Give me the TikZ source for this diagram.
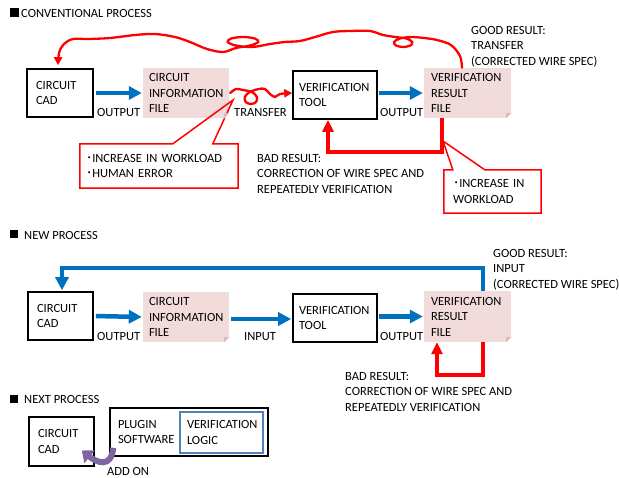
\documentclass[tikz,border=0pt]{standalone}
\usepackage{fontspec}
\setmainfont{Carlito}
\newfontfamily\cjkfont{Noto Sans CJK JP}
\usetikzlibrary{arrows.meta}
\definecolor{flowblue}{RGB}{0,112,192}
\definecolor{alertred}{RGB}{255,0,0}
\definecolor{filepink}{RGB}{242,220,219}
\definecolor{foldpink}{RGB}{214,190,190}
\definecolor{logicblue}{RGB}{79,129,189}
\definecolor{addonpurple}{RGB}{128,100,162}
\newcommand{\bulletdot}{{\cjkfont ･}}
\begin{document}
\begin{tikzpicture}[x=1pt,y=-1pt,
  every node/.style={font=\fontsize{12.5}{15.5}\selectfont, text=black},
  box/.style={draw=black, line width=1.6pt, align=left, inner ysep=0pt},
  file/.style={fill=filepink, align=left, inner ysep=0pt},
  lbl/.style={anchor=north west, inner sep=0pt, align=left},
  calloutbox/.style={align=left, inner ysep=0pt},
  calloutline/.style={draw=alertred, line width=1.5pt, line join=miter},
  flow/.style={draw=flowblue, line width=4.5pt, -{Triangle[length=13pt,width=13pt]}},
  fix/.style={draw=alertred, line width=4pt, -{Triangle[length=12pt,width=11pt]}},
  wavy/.style={draw=alertred, line width=2.3pt, line cap=round, -{Triangle[length=8pt,width=8pt]}},
  addon/.style={draw=addonpurple, line width=6pt, -{Triangle[length=10pt,width=16pt]}}]
\useasboundingbox (0,0) rectangle (619,477);

% ---------------- section headings ----------------
\fill (10,8) rectangle (19,17);
\node[lbl] (h1) at (21,9) {CONVENTIONAL PROCESS};
\fill (10,230) rectangle (18,238);
\node[lbl] (h2) at (24,231) {NEW PROCESS};
\fill (10,395) rectangle (18,403);
\node[lbl] (h3) at (24,395) {NEXT PROCESS};

% ---------------- conventional process ----------------
\node[box, minimum width=66pt, minimum height=48pt, text width=48pt, inner xsep=9pt] (cad1) at (60,93) {CIRCUIT\\CAD};
\node[file, minimum width=86pt, minimum height=50pt, text width=74pt, inner xsep=6pt] (if1) at (186,93) {CIRCUIT\\INFORMATION\\FILE};
\node[box, minimum width=84pt, minimum height=48pt, text width=72pt, inner xsep=6pt] (tool1) at (335,95) {VERIFICATION\\TOOL};
\node[file, minimum width=87pt, minimum height=50pt, text width=73pt, inner xsep=7pt] (rf1) at (467.5,93) {VERIFICATION\\RESULT\\FILE};

\node[lbl] (out1a) at (97,108) {OUTPUT};
\node[lbl] (tr1) at (234,108) {TRANSFER};
\node[lbl] (out1b) at (380,108) {OUTPUT};
\node[lbl] (good1) at (471,26) {GOOD RESULT:\\TRANSFER\\(CORRECTED WIRE SPEC)};
\node[lbl] (bad1) at (257,154) {BAD RESULT:\\CORRECTION OF WIRE SPEC AND\\REPEATEDLY VERIFICATION};

\draw[flow, shorten <=2pt, shorten >=1pt] (cad1.east) -- (if1.west);
\draw[flow, shorten <=1pt, shorten >=1pt] (tool1.east |- rf1.west) -- (rf1.west);

% manual hand-over of the information file
\coordinate (t1in) at (tool1.west |- if1.east);
\draw[wavy] plot[smooth, tension=0.55] coordinates {
  ([xshift=1pt]if1.east) (236,89) (243,90) (252,92) (256.9,97) (256,102) (250.9,104)
  (245.8,102) (244.8,97) (249.7,92) (258.7,89) (265,89) (270,94) (275,97) (280,94) (t1in)};

% manual return of the corrected wire spec
\coordinate (ret1) at ([xshift=-5.5pt]rf1.north);
\coordinate (ret1end) at ([xshift=-2pt]cad1.north);
\draw[wavy, shorten >=3pt] plot[smooth, tension=0.55] coordinates {
  (ret1) (460,56) (451,45) (437,40) (424,38) (411,37) (399.9,38.5) (394.1,42)
  (395.9,45.5) (403.2,47) (410.4,45.5) (412.2,42) (406.5,38.5) (395.3,37)
  (383,35) (370,31) (350,31) (333,32) (315,37) (300,41) (285,42) (270,44)
  (252.4,47) (235.9,45.5) (227.7,42) (231.2,38.5) (243,37) (254.8,38.5)
  (258.3,42) (250,45.5) (236,48) (223,52) (207,49) (190,42) (175,37)
  (155,34) (135,35) (110,38) (88,39) (73,39) (64,44) (59,53) (ret1end)};

% bad result loop
\draw[fix] ([xshift=-25.5pt]rf1.south) -- ++(0,34) -| ([xshift=-7pt]tool1.south);

% callouts
\node[calloutbox, minimum width=158pt, minimum height=44pt, text width=146pt, inner xsep=6pt] (c1) at (159,166)
  {\bulletdot INCREASE IN WORKLOAD\\\bulletdot HUMAN ERROR};
\coordinate (c1tip) at (233,100);
\draw[calloutline] (c1.north west) -- ([xshift=93pt]c1.north west) -- (c1tip)
  -- ([xshift=133pt]c1.north west) -- (c1.north east) -- (c1.south east) -- (c1.south west) -- cycle;

\node[calloutbox, minimum width=97pt, minimum height=43pt, text width=79pt, inner xsep=9pt] (c2) at (492.5,191.5)
  {\bulletdot INCREASE IN\\WORKLOAD};
\coordinate (c2tip) at (443,141);
\draw[calloutline] (c2.north west) -- ([xshift=9pt]c2.north west) -- (c2tip)
  -- ([xshift=41pt]c2.north west) -- (c2.north east) -- (c2.south east) -- (c2.south west) -- cycle;

% ---------------- new process ----------------
\node[box, minimum width=65pt, minimum height=48pt, text width=47pt, inner xsep=9pt] (cad2) at (60.5,316) {CIRCUIT\\CAD};
\node[file, minimum width=86pt, minimum height=50pt, text width=74pt, inner xsep=6pt] (if2) at (186,317) {CIRCUIT\\INFORMATION\\FILE};
\node[box, minimum width=84pt, minimum height=48pt, text width=72pt, inner xsep=6pt] (tool2) at (335,318) {VERIFICATION\\TOOL};
\node[file, minimum width=87pt, minimum height=51pt, text width=73pt, inner xsep=7pt] (rf2) at (467.5,316.5) {VERIFICATION\\RESULT\\FILE};

\node[lbl] (out2a) at (97,332) {OUTPUT};
\node[lbl] (in2) at (244,332) {INPUT};
\node[lbl] (out2b) at (380,332) {OUTPUT};
\node[lbl] (good2) at (493,249) {GOOD RESULT:\\INPUT\\(CORRECTED WIRE SPEC)};
\node[lbl] (bad2) at (345,372) {BAD RESULT:\\CORRECTION OF WIRE SPEC AND\\REPEATEDLY VERIFICATION};

\draw[flow, shorten <=2pt, shorten >=1pt] (cad2.east) -- (if2.west);
\draw[flow, shorten <=2pt, shorten >=1pt] ([yshift=-2pt]if2.east) -- ([yshift=-2pt]if2.east -| tool2.west);
\draw[flow, shorten <=1pt, shorten >=1pt] (tool2.east |- rf2.west) -- (rf2.west);
\draw[flow, shorten >=1pt] ([xshift=15.5pt]rf2.north) -- ++(0,-23) -| ([xshift=1.5pt]cad2.north);
\draw[fix] ([xshift=15.5pt]rf2.south) -- ++(0,33) -| ([xshift=-30.5pt]rf2.south);

% folded corners of the file sheets
\foreach \f in {if1,rf1,if2,rf2} {
  \fill[white] (\f.south east) -- ++(-5,0) -- ++(5,-5) -- cycle;
  \fill[foldpink] ([xshift=-5pt]\f.south east) -- ++(5,-5) -- ++(-5,0) -- cycle;
}

% ---------------- next process ----------------
\node[box, minimum width=65pt, minimum height=49pt, text width=47pt, inner xsep=9pt] (cad3) at (61.5,441.5) {CIRCUIT\\CAD};
\node[box, minimum width=158pt, minimum height=48pt, text width=142pt, inner xsep=8pt] (plug) at (189,432) {PLUGIN\\SOFTWARE};
\node[draw=logicblue, line width=1.3pt, align=left, inner ysep=0pt, minimum width=83pt, minimum height=41pt, text width=69pt, inner xsep=7pt] (logic) at (221.5,432.5) {VERIFICATION\\LOGIC};
\node[lbl] (addlbl) at (107,467) {ADD ON};
\draw[addon] ([shift={(4,-9)}]plug.south west) .. controls ([shift={(2,12)}]plug.south west) and ([shift={(2,21)}]cad3.east) .. ([shift={(-13,9)}]cad3.east);
\end{tikzpicture}
\end{document}
